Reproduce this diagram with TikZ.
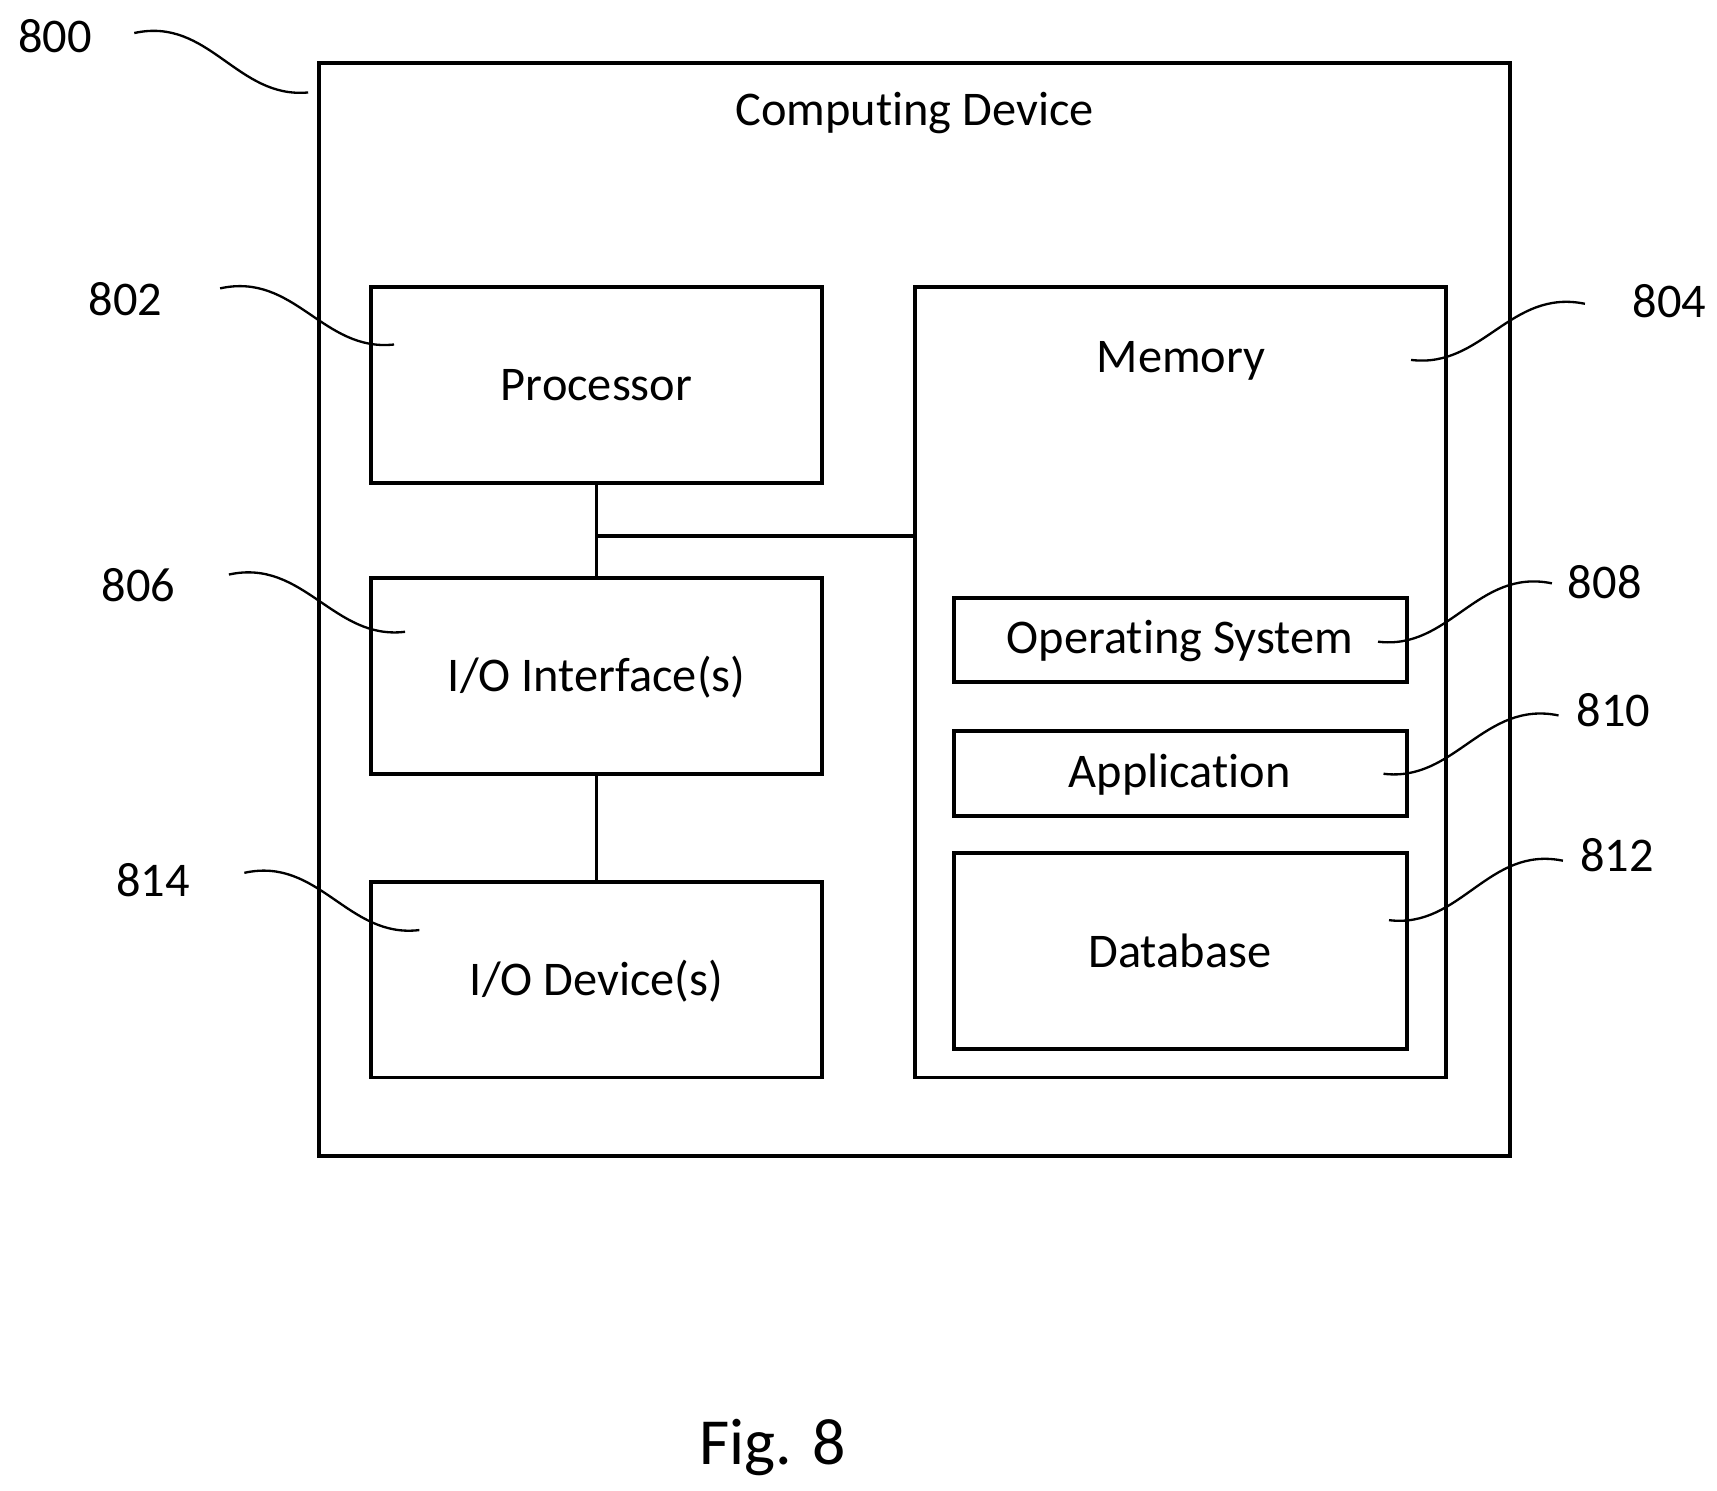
\documentclass[tikz,border=0pt]{standalone}
\usepackage{fontspec}
\setmainfont{Carlito}[RawFeature=-liga]
\begin{document}
\begin{tikzpicture}[x=0.01cm, y=-0.01cm,
    box/.style={draw, line width=1pt},
    lbl/.style={font=\fontsize{12.5}{15}\selectfont},
    txt/.style={font=\fontsize{12.5}{15}\selectfont},
    lead/.style={line width=0.6pt}]

    \useasboundingbox (0, 0) rectangle (1560, 1354);

    % boxes
    \draw[box] (290, 57) rectangle (1372, 1050);
    \draw[box] (337, 261) rectangle (747, 439);
    \draw[box] (337, 525) rectangle (747, 703);
    \draw[box] (337, 801) rectangle (747, 979);
    \draw[box] (831, 261) rectangle (1314, 979);
    \draw[box] (867, 543) rectangle (1278, 620);
    \draw[box] (867, 664) rectangle (1278, 741);
    \draw[box] (867, 775) rectangle (1278, 953);

    \node[txt] (dev) at (831, 103) {Computing Device};
    \node[txt] (proc) at (542, 350) {Processor};
    \node[txt] (ioif) at (542, 615) {I/O Interface(s)};
    \node[txt] (iodev) at (542, 891) {I/O Device(s)};
    \node[txt] (mem) at (1073, 328) {Memory};
    \node[txt] (os) at (1072, 582) {Operating System};
    \node[txt] (app) at (1072, 704) {Application};
    \node[txt] (db) at (1072, 864) {Database};

    % bus
    \coordinate (pbot) at (542, 439);
    \coordinate (itop) at (542, 525);
    \coordinate (ibot) at (542, 703);
    \coordinate (dtop) at (542, 801);
    \coordinate (bus) at (542, 487);
    \coordinate (mleft) at (831, 487);
    \draw[line width=1pt] (pbot) -- (itop);
    \draw[line width=1pt] (bus) -- (mleft);
    \draw[line width=1pt] (ibot) -- (dtop);

    % reference numerals
    \node[lbl] (n800) at (50, 33) {800};
    \node[lbl] (n802) at (114, 272) {802};
    \node[lbl] (n806) at (126, 532) {806};
    \node[lbl] (n814) at (139, 800) {814};
    \node[lbl] (n804) at (1517, 274) {804};
    \node[lbl] (n808) at (1458, 529) {808};
    \node[lbl] (n810) at (1466, 645) {810};
    \node[lbl] (n812) at (1469, 777) {812};

    \coordinate (t800) at (280, 84);
    \coordinate (t802) at (358, 313);
    \coordinate (t806) at (368, 574);
    \coordinate (t814) at (381, 845);
    \coordinate (t804) at (1282, 327);
    \coordinate (t808) at (1252, 583);
    \coordinate (t810) at (1257, 703);
    \coordinate (t812) at (1262, 836);

    \draw[lead] (122, 30) .. controls (190, 15) and (215, 90) .. (t800);
    \draw[lead] (200, 262) .. controls (268, 247) and (293, 320) .. (t802);
    \draw[lead] (208, 522) .. controls (276, 507) and (303, 582) .. (t806);
    \draw[lead] (222, 793) .. controls (290, 778) and (316, 853) .. (t814);
    \draw[lead] (1440, 276) .. controls (1372, 262) and (1347, 335) .. (t804);
    \draw[lead] (1410, 530) .. controls (1342, 516) and (1317, 591) .. (t808);
    \draw[lead] (1416, 650) .. controls (1348, 636) and (1322, 711) .. (t810);
    \draw[lead] (1420, 782) .. controls (1352, 768) and (1327, 844) .. (t812);

    \node[font=\fontsize{17}{20}\selectfont] (fig) at (702, 1315) {Fig. 8};

\end{tikzpicture}
\end{document}
